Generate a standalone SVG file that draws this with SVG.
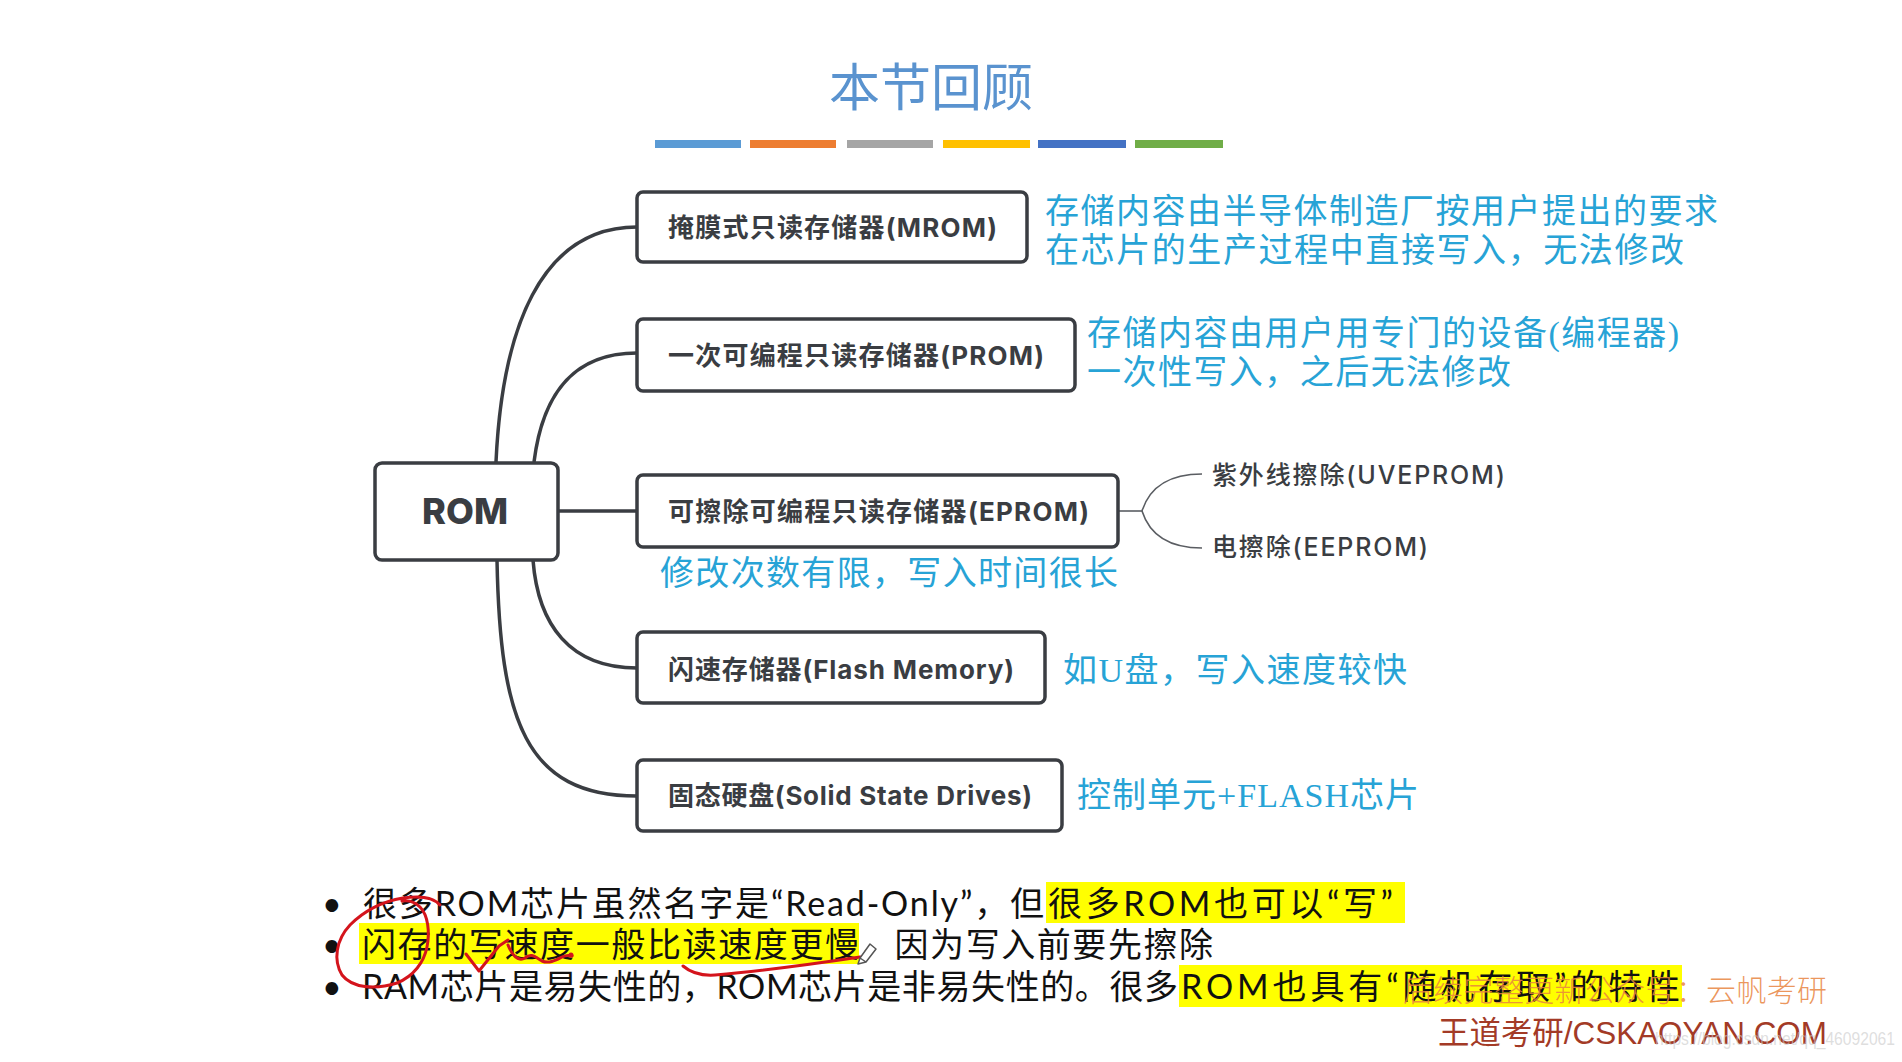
<svg xmlns="http://www.w3.org/2000/svg" width="1902" height="1062" viewBox="0 0 1902 1062">
<style>
.box{fill:#fff;stroke:#3a3d42;stroke-width:3.5}
.nt{font-family:"Inter","Noto Sans CJK SC",sans-serif;font-weight:700;font-size:26px;fill:#3a3d42;dominant-baseline:central}
.st{font-family:"Inter","Noto Sans CJK SC",sans-serif;font-weight:500;font-size:25px;fill:#3a3d42;dominant-baseline:central}
.bl{font-family:"Liberation Serif","Noto Sans CJK SC",serif;font-weight:400;font-size:34px;fill:#27a3d6;dominant-baseline:central}
.bt{font-family:"Lato","Noto Sans CJK SC",sans-serif;font-size:34px;fill:#111;dominant-baseline:central}
.hl{fill:#ffff00}
.conn path{fill:none;stroke:#3a3d42;stroke-width:3.5}
.conn path.thin{stroke:#5a5d62;stroke-width:1.6}
.red{fill:none;stroke:#d4141c;stroke-width:3;stroke-linecap:round;stroke-linejoin:round}
</style>
<rect width="1902" height="1062" fill="#fff"/>
<g id="title">
<text x="931" y="84" text-anchor="middle" font-family="Noto Sans CJK SC, sans-serif" font-size="51" fill="#5a93cf" dominant-baseline="central">本节回顾</text>
<rect x="655" y="140" width="86" height="8" fill="#5b9bd5"/>
<rect x="750" y="140" width="86" height="8" fill="#ed7d31"/>
<rect x="847" y="140" width="86" height="8" fill="#a5a5a5"/>
<rect x="943" y="140" width="87" height="8" fill="#ffc000"/>
<rect x="1038" y="140" width="88" height="8" fill="#4472c4"/>
<rect x="1135" y="140" width="88" height="8" fill="#70ad47"/>
</g>
<g class="conn" id="connectors">
<path d="M496,462 C502,330 540,227 637,227"/>
<path d="M534,462 C542,398 570,353 637,353"/>
<path d="M559,511 L637,511"/>
<path d="M533,560 C538,625 570,668 637,668"/>
<path d="M497,560 C500,720 525,796 637,796"/>
<path class="thin" d="M1118,511 L1142,511"/>
<path class="thin" d="M1142,511 C1150,486 1170,474 1202,474"/>
<path class="thin" d="M1142,511 C1150,536 1170,548 1202,548"/>
</g>
<g id="node-rom">
<rect class="box" x="375" y="463" width="183" height="97" rx="7"/>
<text x="465" y="511" text-anchor="middle" font-family="Inter, sans-serif" font-weight="800" font-size="36" fill="#3a3d42" dominant-baseline="central" textLength="86" lengthAdjust="spacingAndGlyphs">ROM</text>
</g>
<g id="node-mrom">
<rect class="box" x="637" y="192" width="390" height="70" rx="6"/>
<text class="nt" x="668" y="227" textLength="329">掩膜式只读存储器(MROM)</text>
</g>
<g id="node-prom">
<rect class="box" x="637" y="319" width="438" height="72" rx="6"/>
<text class="nt" x="668" y="355" textLength="376">一次可编程只读存储器(PROM)</text>
</g>
<g id="node-eprom">
<rect class="box" x="637" y="475" width="481" height="72" rx="6"/>
<text class="nt" x="668" y="511" textLength="421">可擦除可编程只读存储器(EPROM)</text>
</g>
<g id="node-flash">
<rect class="box" x="637" y="632" width="408" height="71" rx="6"/>
<text class="nt" x="668" y="669" textLength="346">闪速存储器(Flash Memory)</text>
</g>
<g id="node-ssd">
<rect class="box" x="637" y="760" width="425" height="71" rx="6"/>
<text class="nt" x="668" y="795" textLength="364">固态硬盘(Solid State Drives)</text>
</g>
<g id="node-uveprom">
<text class="st" x="1212" y="475" textLength="293">紫外线擦除(UVEPROM)</text>
</g>
<g id="node-eeprom">
<text class="st" x="1212" y="547" textLength="216">电擦除(EEPROM)</text>
</g>
<g id="notes">
<text class="bl" x="1045" y="211" textLength="673">存储内容由半导体制造厂按用户提出的要求</text>
<text class="bl" x="1045" y="250" textLength="639">在芯片的生产过程中直接写入，无法修改</text>
<text class="bl" x="1087" y="333" textLength="592">存储内容由用户用专门的设备(编程器)</text>
<text class="bl" x="1087" y="372" textLength="424">一次性写入，之后无法修改</text>
<text class="bl" x="660" y="573" textLength="458">修改次数有限，写入时间很长</text>
<text class="bl" x="1063" y="670" textLength="344">如U盘，写入速度较快</text>
<text class="bl" x="1077" y="795" textLength="342">控制单元+FLASH芯片</text>
</g>
<g id="bullets">
<rect class="hl" x="1046" y="882" width="359" height="41"/>
<rect class="hl" x="359" y="923" width="500" height="41"/>
<rect class="hl" x="1179" y="965" width="503" height="42"/>
<text class="bt" x="322" y="902">•</text>
<text class="bt" x="322" y="943">•</text>
<text class="bt" x="322" y="985">•</text>
<text class="bt" x="363" y="902" textLength="681">很多ROM芯片虽然名字是“Read-Only”，但</text>
<text class="bt" x="1048" y="902" textLength="345">很多ROM也可以“写”</text>
<text class="bt" x="362" y="943" textLength="497">闪存的写速度一般比读速度更慢</text>
<text class="bt" x="859" y="943" textLength="354">，因为写入前要先擦除</text>
<text class="bt" x="362" y="985" textLength="816">RAM芯片是易失性的，ROM芯片是非易失性的。很多</text>
<text class="bt" x="1181" y="985" textLength="499">ROM也具有“随机存取”的特性</text>
</g>
<g id="annotations">
<path class="red" d="M440,905 C432,896 418,896 403,898 C385,901 365,910 350,925 C336,940 333,960 342,975 C352,988 375,990 397,983 C414,976 424,962 427,947 C430,932 428,915 420,907 C414,901 408,900 402,901"/>
<path class="red" d="M466,954 L479,971 L499,946 L508,940"/>
<path class="red" d="M508,945 C512,955 518,962 525,958 C532,952 536,958 542,961 C549,964 556,960 562,957 C566,955 569,955 572,956"/>
<circle cx="571" cy="955" r="2.5" fill="#d4141c"/>
<path class="red" d="M683,966 C690,972 700,976 715,975 C750,972 800,966 860,957"/>
<path d="M860,958 L870,944 L876,949 L866,962 Z M860,958 L858,964 L866,962" fill="#fff" stroke="#555" stroke-width="1.5" stroke-linejoin="round"/>
</g>
<g id="watermark">
<text x="1403" y="988" font-family="Noto Sans CJK SC, sans-serif" font-weight="300" font-size="30" fill="#e8843f" fill-opacity="0.85" dominant-baseline="central" textLength="424">后续完整更新公众号：云帆考研</text>
<text x="1438" y="1033" font-family="Liberation Sans, Noto Sans CJK SC, sans-serif" font-size="32" fill="#a33a26" dominant-baseline="central" textLength="389" lengthAdjust="spacingAndGlyphs">王道考研/CSKAOYAN.COM</text>
<text x="1655" y="1038" font-family="Liberation Sans, sans-serif" font-size="19" fill="#c8c8c8" fill-opacity="0.6" dominant-baseline="central" textLength="240" lengthAdjust="spacingAndGlyphs">https://blog.csdn.net/qq_46092061</text>
</g>
</svg>
